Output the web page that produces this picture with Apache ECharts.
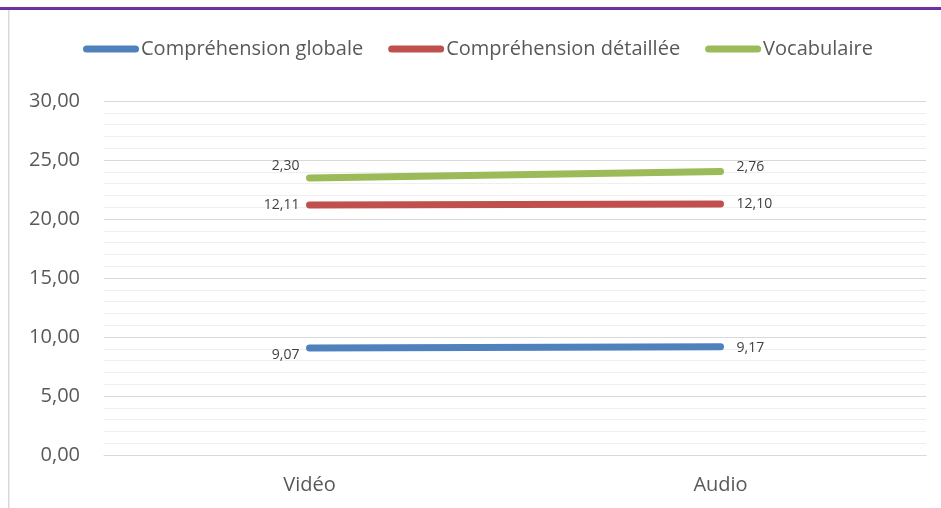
<!DOCTYPE html>
<html>
<head>
<meta charset="utf-8">
<script src="https://cdn.jsdelivr.net/npm/echarts@6/dist/echarts.min.js"></script>
<style>
  html, body { margin: 0; padding: 0; background: #fff; }
  #chart { width: 941px; height: 508px; }
</style>
</head>
<body>
<div id="chart"></div>
<script>
// data (stacked lines, labels show own value)
const categories = ['Vidéo', 'Audio'];
const globale = [9.07, 9.17];
const detaillee = [12.11, 12.10];
const vocabulaire = [2.30, 2.76];
const yTicks = [0, 5, 10, 15, 20, 25, 30];

const fontName = 'Open Sans, Noto Sans, sans-serif';
const legendIcon = 'path://M3.5,0 H52.5 A3.5,3.5 0 0 1 52.5,7 H3.5 A3.5,3.5 0 0 1 3.5,0 Z';

function fmt (v) {
  return Number(v).toFixed(2).replace('.', ',');
}

// label for first point sits on the left, for the second on the right
function makeData (values, offL, offR) {
  return values.map(function (v, i) {
    return {
      value: v,
      label: {
        position: i === 0 ? 'left' : 'right',
        distance: i === 0 ? 10 : 16,
        offset: i === 0 ? offL : offR
      }
    };
  });
}

function makeSeries (name, values, color, offL, offR) {
  return {
    name: name,
    type: 'line',
    stack: 'total',
    data: makeData(values, offL, offR),
    showSymbol: true,
    symbol: 'circle',
    symbolSize: 0.1,
    lineStyle: { color: color, width: 7, cap: 'round' },
    itemStyle: { color: color },
    label: {
      show: true,
      color: '#404040',
      fontSize: 14,
      fontFamily: fontName,
      formatter: function (p) { return fmt(p.value); }
    }
  };
}

const myChart = echarts.init(document.getElementById('chart'));

myChart.setOption({
  animation: false,
  backgroundColor: '#ffffff',
  graphic: [
    { type: 'rect', shape: { x: 0, y: 7, width: 941, height: 3 }, style: { fill: '#7030a0' } },
    { type: 'rect', shape: { x: 8, y: 10, width: 1.5, height: 498 }, style: { fill: '#d9d9d9' } }
  ],
  legend: {
    top: 34,
    left: 78,
    itemWidth: 56,
    itemHeight: 7,
    itemGap: 25,
    icon: legendIcon,
    textStyle: { color: '#595959', fontSize: 20, fontFamily: fontName, padding: [0, 0, 0, -3] },
    data: ['Compréhension globale', 'Compréhension détaillée', 'Vocabulaire']
  },
  grid: {
    left: 104,
    right: 15,
    top: 101,
    bottom: 53,
    containLabel: false
  },
  xAxis: {
    type: 'category',
    data: categories,
    boundaryGap: true,
    axisLine: { show: true, lineStyle: { color: '#d9d9d9', width: 1 } },
    axisTick: { show: false },
    axisLabel: { color: '#595959', fontSize: 20, fontFamily: fontName, margin: 20 }
  },
  yAxis: {
    type: 'value',
    min: yTicks[0],
    max: yTicks[yTicks.length - 1],
    interval: 5,
    axisLine: { show: false },
    axisTick: { show: false },
    axisLabel: {
      color: '#595959',
      fontSize: 20,
      fontFamily: fontName,
      margin: 24,
      formatter: fmt
    },
    splitLine: { lineStyle: { color: '#d9d9d9', width: 1 } },
    minorTick: { show: false, splitNumber: 5 },
    minorSplitLine: { show: true, lineStyle: { color: '#efefef', width: 1 } }
  },
  series: [
    makeSeries('Compréhension globale', globale, '#4f81bd', [0, 7], [0, 1]),
    makeSeries('Compréhension détaillée', detaillee, '#c0504d', [0, 0], [0, 0]),
    makeSeries('Vocabulaire', vocabulaire, '#9bbb59', [0, -12], [0, -4])
  ]
});
</script>
</body>
</html>
